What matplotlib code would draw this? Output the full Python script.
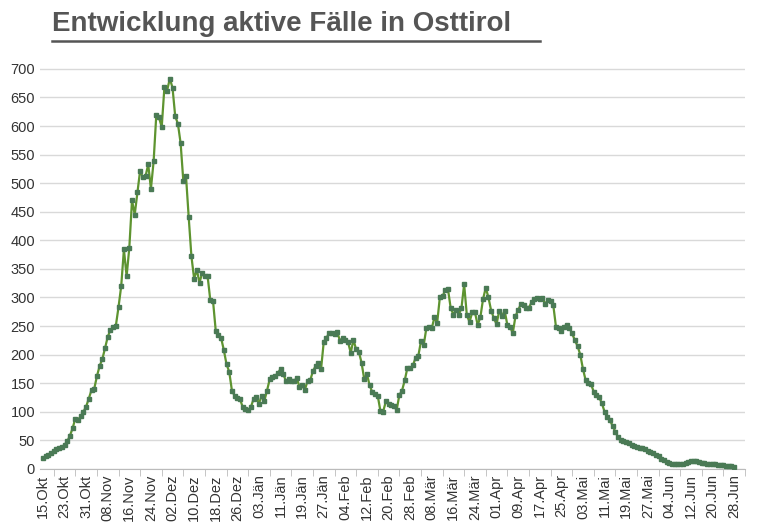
import matplotlib
matplotlib.use("Agg")
import matplotlib.pyplot as plt
import numpy as np
import pandas as pd

# daily active cases, 15.Okt 2020 .. 28.Jun 2021
values = [19, 22, 25, 28, 31, 34, 36, 38, 42, 48, 58, 71, 88, 86, 92, 100,
          109, 123, 138, 140, 162, 180, 192, 211, 231, 243, 248, 250, 283, 320,
          384, 337, 387, 470, 445, 484, 522, 510, 512, 533, 490, 538, 620, 615,
          598, 668, 662, 683, 667, 617, 604, 570, 504, 512, 440, 372, 333, 348,
          326, 343, 338, 337, 295, 294, 242, 235, 229, 208, 183, 170, 137, 128,
          124, 122, 108, 105, 103, 108, 122, 126, 114, 128, 119, 137, 157, 160,
          163, 167, 175, 166, 154, 157, 154, 154, 159, 144, 146, 138, 154, 155,
          171, 180, 186, 174, 222, 229, 238, 238, 236, 240, 224, 229, 225, 222,
          203, 226, 209, 205, 186, 157, 166, 146, 134, 131, 128, 101, 100, 118,
          114, 112, 110, 103, 129, 137, 155, 177, 176, 181, 194, 197, 223, 216,
          246, 249, 246, 265, 255, 300, 302, 313, 315, 282, 270, 278, 270, 281,
          323, 269, 257, 274, 274, 252, 265, 297, 317, 300, 277, 264, 253, 277,
          267, 277, 252, 249, 237, 267, 278, 288, 287, 282, 282, 292, 298, 299,
          298, 299, 288, 296, 294, 287, 249, 246, 242, 249, 252, 246, 237,
          225, 215, 200, 175, 155, 150, 148, 135, 130, 125, 115, 100, 90, 85, 75,
          65, 55, 50, 48, 47, 45, 42, 40, 38, 37, 36, 34, 32, 30, 27, 25, 22, 18,
          15, 12, 10, 9, 8, 8, 8, 9, 10, 12, 13, 13, 13, 12, 11, 10, 9, 9, 8, 8,
          7, 6, 6, 5, 5, 5, 4]

months = {10: 'Okt', 11: 'Nov', 12: 'Dez', 1: 'Jän', 2: 'Feb', 3: 'Mär',
          4: 'Apr', 5: 'Mai', 6: 'Jun'}
dates = pd.date_range('2020-10-15', periods=len(values), freq='D')
tick_idx = list(range(0, len(values), 8))
tick_labels = [f"{dates[i].day:02d}.{months[dates[i].month]}" for i in tick_idx]

plt.rcParams['font.family'] = ['Liberation Sans', 'DejaVu Sans']
fig = plt.figure(figsize=(7.68, 5.28), dpi=100)
ax = fig.add_axes([0.052, 0.112, 0.918, 0.79])

x = np.arange(len(values))
ax.plot(x, values, color='#5e9430', linewidth=1.6, marker='s', markersize=3.2,
        markerfacecolor='#4a7a55', markeredgecolor='#4a7a55', zorder=3)

ax.set_ylim(0, 730)
ax.set_xlim(-1.1, 256.8)
ax.set_yticks(range(0, 701, 50))
ax.tick_params(axis='y', length=0, labelsize=10.5, colors='#333333')
ax.set_xticks(tick_idx)
ax.set_xticklabels(tick_labels, rotation=90, fontsize=10.5, color='#333333')
ax.set_xticks([i - 4 for i in tick_idx[1:]] + [len(values) + 3], minor=True)
ax.tick_params(axis='x', which='major', length=0, pad=4)
ax.tick_params(axis='x', which='minor', length=5, color='#bbbbbb')
ax.grid(axis='y', color='#d9d9d9', linewidth=1)
for s in ['top', 'right', 'left']:
    ax.spines[s].set_visible(False)
ax.spines['bottom'].set_color('#bbbbbb')

fig.text(0.068, 0.955, 'Entwicklung aktive Fälle in Osttirol', fontsize=20,
         fontweight='bold', color='#555555', va='center')
fig.add_artist(plt.Line2D([0.068, 0.703], [0.922, 0.922], color='#555555', linewidth=1.8))

fig.savefig('out.png', dpi=100)
